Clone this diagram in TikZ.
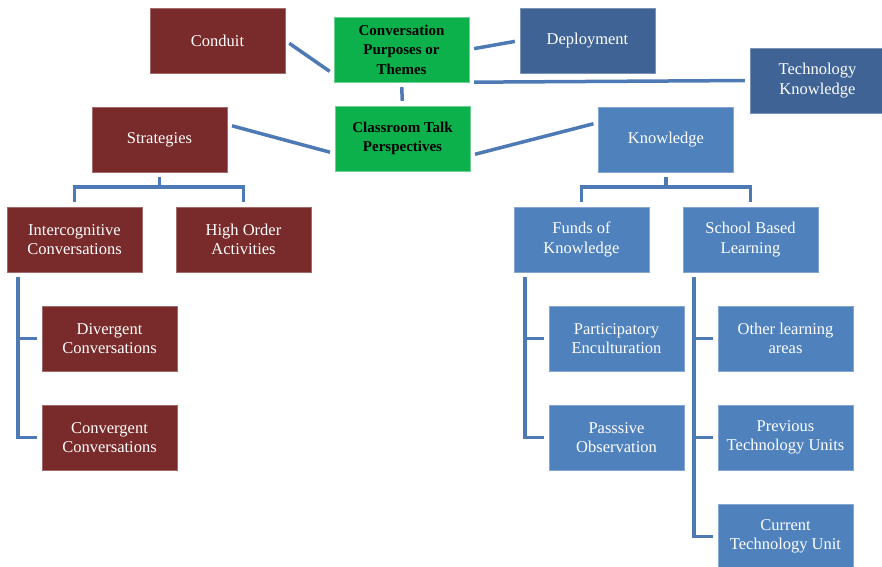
\documentclass[tikz,border=0pt]{standalone}
\usepackage{fontspec}
\setmainfont{Liberation Serif}
\usetikzlibrary{positioning}
\definecolor{maroon}{HTML}{782B2A}
\definecolor{talkgreen}{HTML}{0DB14B}
\definecolor{navy}{HTML}{3F6395}
\definecolor{sky}{HTML}{4F81BD}
\definecolor{wire}{HTML}{4D79B4}

\tikzset{
  box/.style={rectangle, minimum width=135pt, minimum height=65pt, align=center,
              inner sep=1pt, font=\fontsize{16.5}{19.5}\selectfont},
  redbox/.style={box, fill=maroon, draw=maroon!70!white, text=white},
  navybox/.style={box, fill=navy, draw=navy!70!white, text=white},
  skybox/.style={box, fill=sky, draw=sky!70!white, text=white},
  greenbox/.style={box, fill=talkgreen, draw=talkgreen!60!white, text=black,
                   font=\fontsize{15}{19.5}\selectfont\bfseries},
  link/.style={draw=wire, line width=3.5pt, shorten <=5pt, shorten >=5pt},
}

\begin{document}
\begin{tikzpicture}[x=1pt, y=-1pt]
  \useasboundingbox (0,0) rectangle (882,566);

  % top row
  \node[redbox]   (conduit) at (217.5,40.5)  {Conduit};
  \node[greenbox] (purpose) at (401.5,49.5)  {Conversation\\Purposes or\\Themes};
  \node[navybox]  (deploy)  at (587.5,40.5)  {Deployment};
  \node[navybox]  (techk)   at (817.5,80.5)  {Technology\\Knowledge};

  % second row
  \node[redbox]   (strat)   at (159.5,139.5) {Strategies};
  \node[greenbox] (talk)    at (402.5,138.5) {Classroom Talk\\Perspectives};
  \node[skybox]   (know)    at (666,139.5)   {Knowledge};

  % strategies branch
  \node[redbox]   (interc)  at (74.5,239.5)  {Intercognitive\\Conversations};
  \node[redbox]   (higher)  at (243.5,239.5) {High Order\\Activities};
  \node[redbox]   (diverg)  at (109.5,338.5) {Divergent\\Conversations};
  \node[redbox]   (converg) at (109.5,437.5) {Convergent\\Conversations};

  % knowledge branch
  \node[skybox]   (funds)   at (581.5,239.5) {Funds of\\Knowledge};
  \node[skybox]   (school)  at (750.5,239.5) {School Based\\Learning};
  \node[skybox]   (partic)  at (616.5,338.5) {Participatory\\Enculturation};
  \node[skybox]   (passive) at (616.5,437.5) {Passsive\\Observation};
  \node[skybox]   (other)   at (785.5,338.5) {Other learning\\areas};
  \node[skybox]   (prevtu)  at (785.5,437.5) {Previous\\Technology Units};
  \node[skybox]   (currtu)  at (785.5,536.5) {Current\\Technology Unit};

  % links around the two green boxes
  \draw[link] (conduit.east) -- ([yshift=8pt]purpose.south west);
  \draw[link] (purpose.east) -- (deploy.west);
  \draw[link] (purpose.south east) -- (techk.west);
  \draw[link] (purpose.south) -- (talk.north);
  \draw[link] ([yshift=15pt]strat.east) -- ([yshift=-15pt]talk.west);
  \draw[link] ([yshift=-17pt]talk.east) -- ([yshift=17pt]know.west);

  % tree links
  \draw[link] (strat.south) -- ++(0,15) -| (interc.north);
  \draw[link] (strat.south) -- ++(0,15) -| (higher.north);
  \draw[link] (know.south) -- ++(0,15) -| (funds.north);
  \draw[link] (know.south) -- ++(0,15) -| (school.north);

  \draw[link] ([xshift=11pt]interc.south west) |- (diverg.west);
  \draw[link] ([xshift=11pt]interc.south west) |- (converg.west);
  \draw[link] ([xshift=11pt]funds.south west) |- (partic.west);
  \draw[link] ([xshift=11pt]funds.south west) |- (passive.west);
  \draw[link] ([xshift=11pt]school.south west) |- (other.west);
  \draw[link] ([xshift=11pt]school.south west) |- (prevtu.west);
  \draw[link] ([xshift=11pt]school.south west) |- (currtu.west);
\end{tikzpicture}
\end{document}
